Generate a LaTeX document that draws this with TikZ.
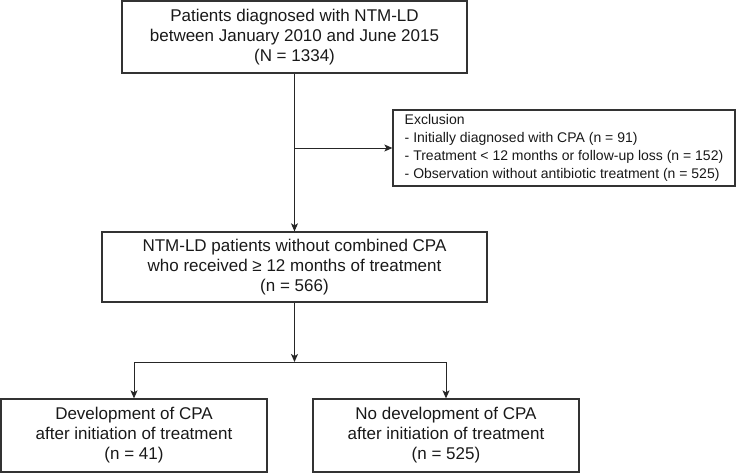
\documentclass[tikz,border=0pt]{standalone}
\usepackage{fontspec}
\setmainfont{Liberation Sans}
\usetikzlibrary{arrows.meta}
\begin{document}
\begin{tikzpicture}[x=1pt,y=-1pt,
  box/.style={draw=black!80, line width=1.3pt, rectangle, inner sep=0pt, align=center,
    text=black!90, font=\fontsize{17}{20}\selectfont},
  exbox/.style={draw=black!80, line width=1.3pt, rectangle, inner sep=0pt, align=left,
    text=black!90, font=\fontsize{14}{18}\selectfont},
  arr/.style={draw=black!85, line width=1pt, -{Stealth[length=8pt,width=7pt,inset=2pt]}},
  ln/.style={draw=black!85, line width=1pt}]
\useasboundingbox (0,0) rectangle (740,474);
\node[box, minimum width=345pt, minimum height=72pt] (top) at (294.5,37)
  {Patients diagnosed with NTM-LD\\between January 2010 and June 2015\\(N = 1334)};
\node[box, minimum width=385pt, minimum height=70pt] (mid) at (294.5,267)
  {NTM-LD patients without combined CPA\\who received ≥ 12 months of treatment\\(n = 566)};
\node[exbox, minimum width=342pt, minimum height=76pt] (excl) at (564,148)
  {Exclusion\\- Initially diagnosed with CPA (n = 91)\\- Treatment < 12 months or follow-up loss (n = 152)\\- Observation without antibiotic treatment (n = 525)};
\node[box, minimum width=266pt, minimum height=73pt] (left) at (134,435.5)
  {Development of CPA\\after initiation of treatment\\(n = 41)};
\node[box, minimum width=266pt, minimum height=73pt] (right) at (446,435.5)
  {No development of CPA\\after initiation of treatment\\(n = 525)};
\coordinate (j) at (294.5,148);
\coordinate (split) at (294.5,362);
\coordinate (ls) at (134,362);
\coordinate (rs) at (446,362);
\draw[arr] (top.south) -- (mid.north);
\draw[arr] (j) -- (excl.west);
\draw[arr] (mid.south) -- (split);
\draw[ln] (ls) -- (rs);
\draw[arr] (ls) -- (left.north);
\draw[arr] (rs) -- (right.north);
\end{tikzpicture}
\end{document}
